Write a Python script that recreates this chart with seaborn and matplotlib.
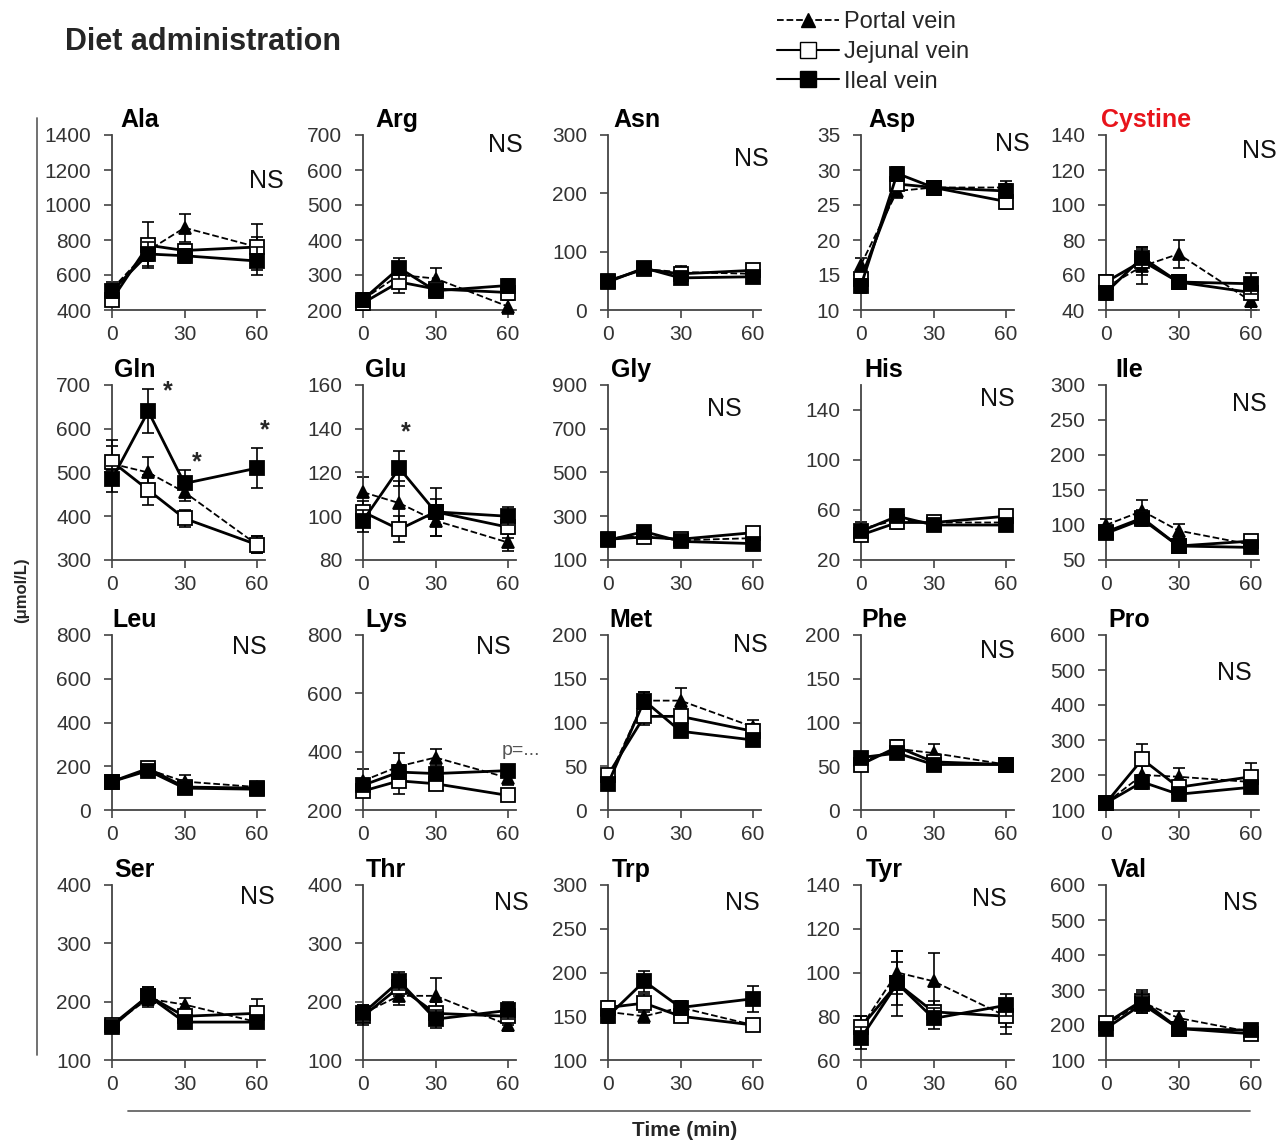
import matplotlib
matplotlib.use("Agg")
import matplotlib.pyplot as plt
import seaborn as sns
import pandas as pd
from matplotlib.lines import Line2D

# ------------------------------------------------------------
# Datos: media y error por vena
# ------------------------------------------------------------
times = [0, 15, 30, 60]
amino_acids = ["Ala", "Arg", "Asn", "Asp", "Cystine",
               "Gln", "Glu", "Gly", "His", "Ile",
               "Leu", "Lys", "Met", "Phe", "Pro",
               "Ser", "Thr", "Trp", "Tyr", "Val"]

portal_mean = {
    "Ala": [520, 740, 870, 760], "Arg": [230, 300, 290, 210], "Asn": [50, 70, 65, 62],
    "Asp": [16.5, 27, 27.5, 27.5], "Cystine": [53, 65, 72, 45],
    "Gln": [520, 500, 455, 335], "Glu": [111, 106, 98, 88], "Gly": [200, 210, 190, 200],
    "His": [45, 52, 50, 50], "Ile": [100, 120, 92, 72],
    "Leu": [130, 185, 130, 105], "Lys": [300, 350, 380, 310], "Met": [35, 125, 125, 95],
    "Phe": [55, 70, 65, 52], "Pro": [120, 200, 195, 180],
    "Ser": [160, 205, 195, 165], "Thr": [180, 210, 210, 160], "Trp": [155, 150, 160, 140],
    "Tyr": [75, 100, 96, 80], "Val": [200, 265, 220, 180],
}
portal_err = {
    "Ala": [40, 60, 80, 60], "Arg": [20, 30, 30, 20], "Asn": [5, 8, 10, 8],
    "Asp": [1, 1, 1, 1], "Cystine": [5, 10, 8, 5],
    "Gln": [40, 35, 20, 20], "Glu": [7, 10, 7, 4], "Gly": [20, 20, 20, 20],
    "His": [5, 5, 5, 5], "Ile": [8, 15, 10, 6],
    "Leu": [15, 20, 30, 15], "Lys": [40, 45, 30, 25], "Met": [8, 10, 15, 8],
    "Phe": [5, 8, 10, 4], "Pro": [10, 25, 25, 20],
    "Ser": [8, 15, 12, 10], "Thr": [15, 15, 30, 10], "Trp": [8, 8, 8, 6],
    "Tyr": [5, 10, 13, 5], "Val": [15, 30, 20, 10],
}
jejunal_mean = {
    "Ala": [460, 770, 740, 760], "Arg": [220, 280, 260, 250], "Asn": [50, 70, 62, 68],
    "Asp": [14.5, 28, 27.5, 25.5], "Cystine": [56, 68, 56, 50],
    "Gln": [525, 460, 395, 335], "Glu": [102, 94, 102, 95], "Gly": [195, 205, 195, 225],
    "His": [40, 50, 50, 55], "Ile": [90, 110, 70, 77],
    "Leu": [130, 190, 105, 100], "Lys": [265, 300, 290, 250], "Met": [40, 107, 107, 90],
    "Phe": [52, 72, 55, 52], "Pro": [120, 245, 165, 195],
    "Ser": [160, 210, 175, 180], "Thr": [175, 225, 180, 175], "Trp": [160, 165, 150, 140],
    "Tyr": [75, 95, 82, 80], "Val": [205, 270, 190, 175],
}
jejunal_err = {
    "Ala": [30, 130, 40, 130], "Arg": [20, 30, 20, 20], "Asn": [5, 8, 8, 8],
    "Asp": [1, 1, 1, 1], "Cystine": [4, 8, 4, 8],
    "Gln": [50, 35, 20, 20], "Glu": [5, 6, 6, 5], "Gly": [20, 20, 20, 20],
    "His": [5, 5, 5, 5], "Ile": [8, 12, 6, 6],
    "Leu": [15, 20, 15, 10], "Lys": [20, 45, 20, 15], "Met": [6, 10, 10, 8],
    "Phe": [5, 8, 5, 4], "Pro": [10, 45, 20, 40],
    "Ser": [8, 15, 10, 25], "Thr": [15, 15, 20, 15], "Trp": [8, 10, 6, 6],
    "Tyr": [5, 15, 5, 8], "Val": [15, 30, 15, 10],
}
ileal_mean = {
    "Ala": [510, 720, 710, 680], "Arg": [230, 320, 255, 270], "Asn": [48, 72, 55, 57],
    "Asp": [13.5, 29.5, 27.5, 27], "Cystine": [50, 70, 56, 55],
    "Gln": [485, 640, 475, 510], "Glu": [98, 122, 102, 100], "Gly": [190, 230, 185, 175],
    "His": [43, 55, 48, 48], "Ile": [88, 108, 70, 68],
    "Leu": [130, 180, 100, 95], "Lys": [285, 330, 325, 335], "Met": [30, 125, 90, 80],
    "Phe": [60, 65, 52, 52], "Pro": [120, 180, 145, 165],
    "Ser": [157, 210, 165, 165], "Thr": [180, 235, 170, 185], "Trp": [150, 190, 160, 170],
    "Tyr": [70, 95, 79, 85], "Val": [190, 260, 190, 185],
}
ileal_err = {
    "Ala": [40, 70, 40, 80], "Arg": [20, 30, 20, 20], "Asn": [5, 8, 5, 5],
    "Asp": [1, 1, 1, 1], "Cystine": [4, 6, 4, 6],
    "Gln": [30, 50, 30, 45], "Glu": [5, 8, 11, 4], "Gly": [20, 20, 20, 20],
    "His": [4, 4, 4, 4], "Ile": [6, 8, 5, 5],
    "Leu": [15, 20, 15, 10], "Lys": [20, 25, 20, 15], "Met": [5, 10, 6, 5],
    "Phe": [5, 5, 4, 4], "Pro": [10, 20, 15, 15],
    "Ser": [8, 15, 8, 10], "Thr": [15, 15, 15, 15], "Trp": [8, 12, 8, 15],
    "Tyr": [5, 10, 5, 5], "Val": [15, 25, 15, 10],
}

# ejes y: (min, max, paso)
y_ticks = {
    "Ala": (400, 1400, 200), "Arg": (200, 700, 100), "Asn": (0, 300, 100),
    "Asp": (10, 35, 5), "Cystine": (40, 140, 20),
    "Gln": (300, 700, 100), "Glu": (80, 160, 20), "Gly": (100, 900, 200),
    "His": (20, 140, 40), "Ile": (50, 300, 50),
    "Leu": (0, 800, 200), "Lys": (200, 800, 200), "Met": (0, 200, 50),
    "Phe": (0, 200, 50), "Pro": (100, 600, 100),
    "Ser": (100, 400, 100), "Thr": (100, 400, 100), "Trp": (100, 300, 50),
    "Tyr": (60, 140, 20), "Val": (100, 600, 100),
}
y_top = {"His": 160}

# ============================================================
# Layout
# ============================================================
W, H = 1287, 1142
col_left = [112, 363, 608, 861, 1106]
row_bottom = [310, 560, 810, 1060]
ax_w, ax_h = 153, 175

ns_pos = {
    "Ala": (1.01, 0.74), "Arg": (0.93, 0.94), "Asn": (0.94, 0.86), "Asp": (0.99, 0.95),
    "Cystine": (1.0, 0.91), "Gly": (0.76, 0.86), "His": (0.89, 0.92), "Ile": (0.94, 0.89),
    "Leu": (0.9, 0.93), "Lys": (0.85, 0.93), "Met": (0.93, 0.94), "Phe": (0.89, 0.91),
    "Pro": (0.84, 0.78), "Ser": (0.95, 0.93), "Thr": (0.97, 0.9), "Trp": (0.88, 0.9),
    "Tyr": (0.84, 0.92), "Val": (0.88, 0.9),
}
title_x = {"Ala": 0.18, "Arg": 0.22, "Asn": 0.19, "Asp": 0.2, "Cystine": 0.26}

sns.set_style("ticks")
plt.rcParams["font.family"] = ["Liberation Sans", "DejaVu Sans"]

fig = plt.figure(figsize=(W / 100, H / 100), dpi=100)

series = [
    ("Portal vein", portal_mean, portal_err,
     dict(linestyle="--", marker="^", markerfacecolor="black", lw=1.3, markersize=9, zorder=3)),
    ("Jejunal vein", jejunal_mean, jejunal_err,
     dict(linestyle="-", marker="s", markerfacecolor="white", lw=2, markersize=10, zorder=4)),
    ("Ileal vein", ileal_mean, ileal_err,
     dict(linestyle="-", marker="s", markerfacecolor="black", lw=2, markersize=10, zorder=5)),
]

spine_col = "#444444"

for i, aa in enumerate(amino_acids):
    r, c = divmod(i, 5)
    left = col_left[c]
    bottom = row_bottom[r]
    ax = fig.add_axes([left / W, 1 - bottom / H, ax_w / W, ax_h / H])

    for label, means, errs, kw in series:
        df = pd.DataFrame({"time": times, "value": means[aa], "err": errs[aa]})
        ax.errorbar(df["time"], df["value"], yerr=df["err"], fmt="none",
                    ecolor="black", elinewidth=1.2, capsize=4, capthick=1.2,
                    zorder=kw["zorder"] - 0.5, clip_on=False)
        sns.lineplot(data=df, x="time", y="value", ax=ax, color="black",
                     markeredgecolor="black", markeredgewidth=1.3,
                     clip_on=False, errorbar=None, **kw)

    lo, hi, step = y_ticks[aa]
    ax.set_ylim(lo, y_top.get(aa, hi))
    ax.set_yticks(list(range(lo, hi + 1, step)))
    ax.set_xlim(0, 63.3)
    ax.set_xticks([0, 30, 60])
    ax.set_xlabel("")
    ax.set_ylabel("")
    sns.despine(ax=ax)
    for s in ["left", "bottom"]:
        ax.spines[s].set_color(spine_col)
        ax.spines[s].set_linewidth(1.3)
    ax.tick_params(axis="both", labelsize=15, colors=spine_col, length=6,
                   width=1.2, labelcolor="#333333")
    ax.tick_params(axis="x", pad=5)
    ax.tick_params(axis="y", pad=9)

    title_color = "#e8141b" if aa == "Cystine" else "black"
    ax.text(title_x.get(aa, 0.15), 1.085, aa, transform=ax.transAxes, ha="center",
            va="center", fontsize=18, fontweight="bold", color=title_color)

    if aa in ns_pos:
        x, y = ns_pos[aa]
        ax.text(x, y, "NS", transform=ax.transAxes, ha="center", va="center",
                fontsize=18, color="#111111")

    if aa == "Gln":
        for sx, sy in [(23, 686), (35, 524), (63, 596)]:
            ax.text(sx, sy, "*", ha="center", va="center", fontsize=18, fontweight="bold")
    if aa == "Glu":
        ax.text(17.8, 138.5, "*", ha="center", va="center", fontsize=18, fontweight="bold")
    if aa == "Lys":
        ax.text(1.03, 0.34, "p=...", transform=ax.transAxes, ha="center", va="center",
                fontsize=14, color="#555555")

# Título y leyenda
fig.text(65 / W, 1 - 42 / H, "Diet administration", fontsize=22, fontweight="bold",
         ha="left", va="center")

handles = [
    Line2D([], [], color="black", linestyle="--", marker="^", markerfacecolor="black",
           lw=1.3, markersize=10),
    Line2D([], [], color="black", linestyle="-", marker="s", markerfacecolor="white",
           markeredgecolor="black", lw=1.5, markersize=11),
    Line2D([], [], color="black", linestyle="-", marker="s", markerfacecolor="black",
           lw=1.5, markersize=11),
]
fig.legend(handles, ["Portal vein", "Jejunal vein", "Ileal vein"], loc="upper left",
           bbox_to_anchor=(768 / W, 1 - 2 / H), frameon=False, fontsize=17,
           handlelength=2.6, handletextpad=0.2, labelspacing=0.32, borderaxespad=0)

# Ejes comunes
fig.add_artist(Line2D([37 / W, 37 / W], [1 - 118 / H, 1 - 1055 / H], color="#666666", lw=1.3))
fig.add_artist(Line2D([128 / W, 1250 / W], [1 - 1111 / H, 1 - 1111 / H], color="#666666", lw=1.3))
fig.text(22 / W, 1 - 590 / H, "(\u03bcmol/L)", rotation=90, fontsize=12, fontweight="bold",
         ha="center", va="center")
fig.text(685 / W, 1 - 1130 / H, "Time (min)", fontsize=15, fontweight="bold",
         ha="center", va="center")

fig.savefig("out.png", dpi=100)
